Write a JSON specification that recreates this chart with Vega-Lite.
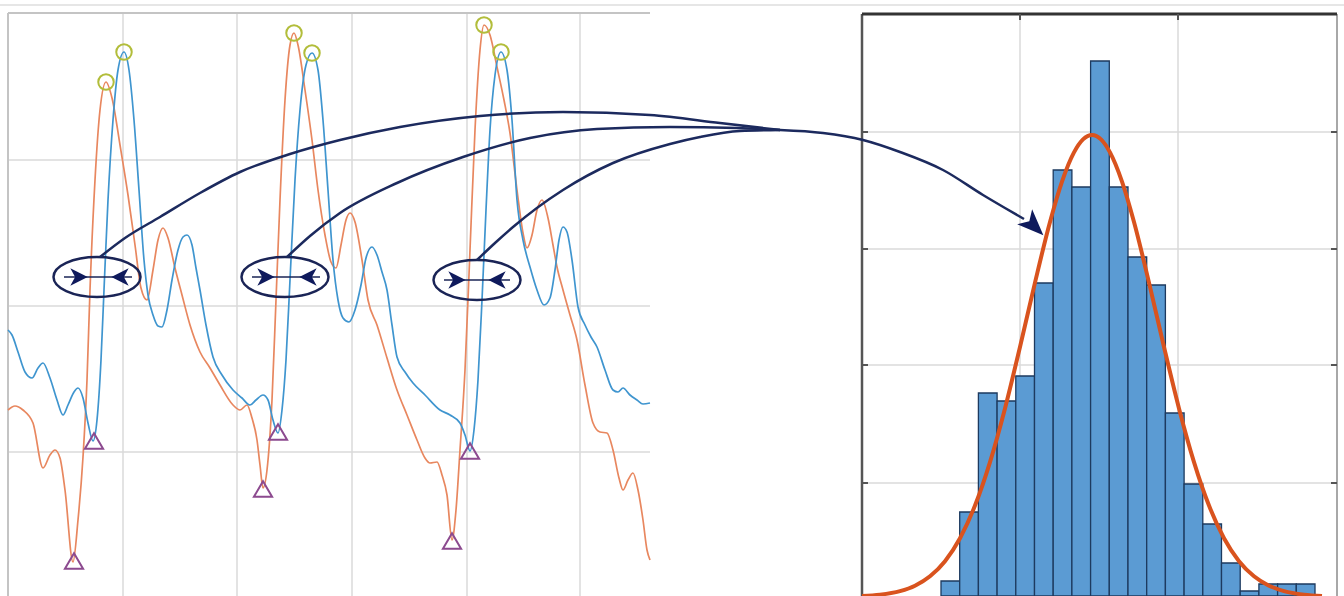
{
  "$schema": "https://vega.github.io/schema/vega-lite/v6.json",
  "width": 1344,
  "height": 596,
  "autosize": {"type": "none"},
  "padding": 0,
  "background": "white",
  "config": {"view": {"stroke": null}},
  "datasets": {
    "rules": [
      {"k": "outer", "x": 0, "x2": 1344, "y": 5, "y2": 5},
      {"k": "lgrid", "x": 123, "x2": 123, "y": 13, "y2": 596},
      {"k": "lgrid", "x": 237, "x2": 237, "y": 13, "y2": 596},
      {"k": "lgrid", "x": 352, "x2": 352, "y": 13, "y2": 596},
      {"k": "lgrid", "x": 467, "x2": 467, "y": 13, "y2": 596},
      {"k": "lgrid", "x": 580, "x2": 580, "y": 13, "y2": 596},
      {"k": "lgrid", "x": 8, "x2": 650, "y": 160, "y2": 160},
      {"k": "lgrid", "x": 8, "x2": 650, "y": 306, "y2": 306},
      {"k": "lgrid", "x": 8, "x2": 650, "y": 452, "y2": 452},
      {"k": "lborder", "x": 8, "x2": 650, "y": 13, "y2": 13},
      {"k": "lborder", "x": 8, "x2": 8, "y": 13, "y2": 596},
      {"k": "rgrid", "x": 1020, "x2": 1020, "y": 14, "y2": 596},
      {"k": "rgrid", "x": 1178, "x2": 1178, "y": 14, "y2": 596},
      {"k": "rgrid", "x": 862, "x2": 1337, "y": 132, "y2": 132},
      {"k": "rgrid", "x": 862, "x2": 1337, "y": 249, "y2": 249},
      {"k": "rgrid", "x": 862, "x2": 1337, "y": 365, "y2": 365},
      {"k": "rgrid", "x": 862, "x2": 1337, "y": 483, "y2": 483},
      {"k": "rtop", "x": 862, "x2": 1337, "y": 14, "y2": 14},
      {"k": "rleft", "x": 862, "x2": 862, "y": 14, "y2": 596},
      {"k": "rright", "x": 1337, "x2": 1337, "y": 14, "y2": 596},
      {"k": "rtick", "x": 862, "x2": 868, "y": 132, "y2": 132},
      {"k": "rtick", "x": 862, "x2": 868, "y": 249, "y2": 249},
      {"k": "rtick", "x": 862, "x2": 868, "y": 365, "y2": 365},
      {"k": "rtick", "x": 862, "x2": 868, "y": 483, "y2": 483},
      {"k": "rtick", "x": 1331, "x2": 1337, "y": 132, "y2": 132},
      {"k": "rtick", "x": 1331, "x2": 1337, "y": 249, "y2": 249},
      {"k": "rtick", "x": 1331, "x2": 1337, "y": 365, "y2": 365},
      {"k": "rtick", "x": 1331, "x2": 1337, "y": 483, "y2": 483},
      {"k": "rtick", "x": 1020, "x2": 1020, "y": 14, "y2": 20},
      {"k": "rtick", "x": 1178, "x2": 1178, "y": 14, "y2": 20}
    ],
    "hist": [
      {"x": 941.0, "x2": 959.7, "y": 581},
      {"x": 959.7, "x2": 978.4, "y": 512},
      {"x": 978.4, "x2": 997.1, "y": 393},
      {"x": 997.1, "x2": 1015.8, "y": 401},
      {"x": 1015.8, "x2": 1034.5, "y": 376},
      {"x": 1034.5, "x2": 1053.2, "y": 283},
      {"x": 1053.2, "x2": 1071.9, "y": 170},
      {"x": 1071.9, "x2": 1090.6, "y": 187},
      {"x": 1090.6, "x2": 1109.3, "y": 61},
      {"x": 1109.3, "x2": 1128.0, "y": 187},
      {"x": 1128.0, "x2": 1146.7, "y": 257},
      {"x": 1146.7, "x2": 1165.4, "y": 285},
      {"x": 1165.4, "x2": 1184.1, "y": 413},
      {"x": 1184.1, "x2": 1202.8, "y": 484},
      {"x": 1202.8, "x2": 1221.5, "y": 524},
      {"x": 1221.5, "x2": 1240.2, "y": 563},
      {"x": 1240.2, "x2": 1258.9, "y": 591},
      {"x": 1258.9, "x2": 1277.6, "y": 584},
      {"x": 1277.6, "x2": 1296.3, "y": 584},
      {"x": 1296.3, "x2": 1315.0, "y": 584}
    ],
    "fit": [
      {"x": 862, "y": 596.1}, {"x": 880, "y": 594.7}, {"x": 900, "y": 591.1}, {"x": 915, "y": 585.7},
      {"x": 930, "y": 576.3}, {"x": 945, "y": 561.2}, {"x": 960, "y": 538.2}, {"x": 975, "y": 505.6},
      {"x": 990, "y": 462.1}, {"x": 1005, "y": 408.4}, {"x": 1020, "y": 347.0}, {"x": 1035, "y": 282.6},
      {"x": 1050, "y": 222.0}, {"x": 1062, "y": 181.6}, {"x": 1074, "y": 152.4}, {"x": 1083, "y": 139.4},
      {"x": 1092, "y": 135.0}, {"x": 1101, "y": 139.4}, {"x": 1110, "y": 152.4}, {"x": 1122, "y": 181.6},
      {"x": 1134, "y": 222.0}, {"x": 1149, "y": 282.6}, {"x": 1164, "y": 347.0}, {"x": 1179, "y": 408.4},
      {"x": 1194, "y": 462.1}, {"x": 1209, "y": 505.6}, {"x": 1224, "y": 538.2}, {"x": 1239, "y": 561.2},
      {"x": 1254, "y": 576.3}, {"x": 1269, "y": 585.7}, {"x": 1284, "y": 591.1}, {"x": 1304, "y": 594.7},
      {"x": 1322, "y": 596.1}
    ],
    "signals": [
      {"s": "orange", "x": 8, "y": 410}, {"s": "orange", "x": 15, "y": 406}, {"s": "orange", "x": 23, "y": 410},
      {"s": "orange", "x": 33, "y": 423}, {"s": "orange", "x": 43, "y": 468}, {"s": "orange", "x": 50, "y": 455},
      {"s": "orange", "x": 55, "y": 450}, {"s": "orange", "x": 60, "y": 458}, {"s": "orange", "x": 65, "y": 490},
      {"s": "orange", "x": 73, "y": 562}, {"s": "orange", "x": 78, "y": 520}, {"s": "orange", "x": 83, "y": 457},
      {"s": "orange", "x": 87, "y": 380}, {"s": "orange", "x": 90, "y": 290}, {"s": "orange", "x": 95, "y": 180},
      {"s": "orange", "x": 100, "y": 110}, {"s": "orange", "x": 106, "y": 82}, {"s": "orange", "x": 112, "y": 98},
      {"s": "orange", "x": 120, "y": 145}, {"s": "orange", "x": 128, "y": 195}, {"s": "orange", "x": 135, "y": 245},
      {"s": "orange", "x": 141, "y": 288}, {"s": "orange", "x": 147, "y": 300}, {"s": "orange", "x": 153, "y": 270},
      {"s": "orange", "x": 158, "y": 240}, {"s": "orange", "x": 163, "y": 228}, {"s": "orange", "x": 168, "y": 238},
      {"s": "orange", "x": 175, "y": 268}, {"s": "orange", "x": 182, "y": 295}, {"s": "orange", "x": 190, "y": 325},
      {"s": "orange", "x": 200, "y": 352}, {"s": "orange", "x": 210, "y": 368}, {"s": "orange", "x": 220, "y": 385},
      {"s": "orange", "x": 233, "y": 405}, {"s": "orange", "x": 240, "y": 410}, {"s": "orange", "x": 247, "y": 405},
      {"s": "orange", "x": 252, "y": 418}, {"s": "orange", "x": 257, "y": 440}, {"s": "orange", "x": 260, "y": 465},
      {"s": "orange", "x": 263, "y": 488}, {"s": "orange", "x": 267, "y": 470}, {"s": "orange", "x": 272, "y": 400},
      {"s": "orange", "x": 276, "y": 300}, {"s": "orange", "x": 280, "y": 200}, {"s": "orange", "x": 285, "y": 100},
      {"s": "orange", "x": 290, "y": 45}, {"s": "orange", "x": 294, "y": 33}, {"s": "orange", "x": 298, "y": 45},
      {"s": "orange", "x": 305, "y": 90}, {"s": "orange", "x": 312, "y": 140}, {"s": "orange", "x": 318, "y": 190},
      {"s": "orange", "x": 325, "y": 235}, {"s": "orange", "x": 331, "y": 262}, {"s": "orange", "x": 336, "y": 268},
      {"s": "orange", "x": 341, "y": 245}, {"s": "orange", "x": 346, "y": 220}, {"s": "orange", "x": 350, "y": 213},
      {"s": "orange", "x": 355, "y": 222}, {"s": "orange", "x": 362, "y": 260}, {"s": "orange", "x": 368, "y": 300},
      {"s": "orange", "x": 377, "y": 325}, {"s": "orange", "x": 387, "y": 358}, {"s": "orange", "x": 397, "y": 390},
      {"s": "orange", "x": 407, "y": 415}, {"s": "orange", "x": 417, "y": 440}, {"s": "orange", "x": 425, "y": 458},
      {"s": "orange", "x": 430, "y": 463}, {"s": "orange", "x": 437, "y": 462}, {"s": "orange", "x": 442, "y": 475},
      {"s": "orange", "x": 447, "y": 495}, {"s": "orange", "x": 452, "y": 540}, {"s": "orange", "x": 456, "y": 510},
      {"s": "orange", "x": 460, "y": 450}, {"s": "orange", "x": 465, "y": 370}, {"s": "orange", "x": 470, "y": 250},
      {"s": "orange", "x": 475, "y": 130}, {"s": "orange", "x": 480, "y": 50}, {"s": "orange", "x": 484, "y": 25},
      {"s": "orange", "x": 490, "y": 35}, {"s": "orange", "x": 497, "y": 67}, {"s": "orange", "x": 504, "y": 100},
      {"s": "orange", "x": 510, "y": 133}, {"s": "orange", "x": 517, "y": 190}, {"s": "orange", "x": 523, "y": 233},
      {"s": "orange", "x": 527, "y": 248}, {"s": "orange", "x": 532, "y": 235}, {"s": "orange", "x": 537, "y": 210},
      {"s": "orange", "x": 542, "y": 200}, {"s": "orange", "x": 548, "y": 218}, {"s": "orange", "x": 553, "y": 245},
      {"s": "orange", "x": 557, "y": 267}, {"s": "orange", "x": 563, "y": 290}, {"s": "orange", "x": 570, "y": 315},
      {"s": "orange", "x": 577, "y": 340}, {"s": "orange", "x": 585, "y": 385}, {"s": "orange", "x": 593, "y": 423},
      {"s": "orange", "x": 600, "y": 432}, {"s": "orange", "x": 607, "y": 433}, {"s": "orange", "x": 613, "y": 450},
      {"s": "orange", "x": 619, "y": 478}, {"s": "orange", "x": 623, "y": 490}, {"s": "orange", "x": 628, "y": 480},
      {"s": "orange", "x": 633, "y": 473}, {"s": "orange", "x": 638, "y": 490}, {"s": "orange", "x": 643, "y": 520},
      {"s": "orange", "x": 647, "y": 550}, {"s": "orange", "x": 650, "y": 560},
      {"s": "blue", "x": 8, "y": 330}, {"s": "blue", "x": 12, "y": 335}, {"s": "blue", "x": 18, "y": 352},
      {"s": "blue", "x": 25, "y": 372}, {"s": "blue", "x": 32, "y": 378}, {"s": "blue", "x": 38, "y": 368},
      {"s": "blue", "x": 43, "y": 363}, {"s": "blue", "x": 50, "y": 378}, {"s": "blue", "x": 57, "y": 400},
      {"s": "blue", "x": 63, "y": 415}, {"s": "blue", "x": 68, "y": 405}, {"s": "blue", "x": 74, "y": 392},
      {"s": "blue", "x": 78, "y": 388}, {"s": "blue", "x": 83, "y": 398}, {"s": "blue", "x": 88, "y": 423},
      {"s": "blue", "x": 93, "y": 441}, {"s": "blue", "x": 97, "y": 420}, {"s": "blue", "x": 101, "y": 360},
      {"s": "blue", "x": 104, "y": 290}, {"s": "blue", "x": 108, "y": 200}, {"s": "blue", "x": 113, "y": 120},
      {"s": "blue", "x": 118, "y": 70}, {"s": "blue", "x": 124, "y": 52}, {"s": "blue", "x": 129, "y": 70},
      {"s": "blue", "x": 134, "y": 120}, {"s": "blue", "x": 139, "y": 190}, {"s": "blue", "x": 144, "y": 260},
      {"s": "blue", "x": 148, "y": 295}, {"s": "blue", "x": 153, "y": 315}, {"s": "blue", "x": 158, "y": 326},
      {"s": "blue", "x": 162, "y": 327}, {"s": "blue", "x": 167, "y": 310}, {"s": "blue", "x": 172, "y": 280},
      {"s": "blue", "x": 178, "y": 250}, {"s": "blue", "x": 183, "y": 237}, {"s": "blue", "x": 187, "y": 235},
      {"s": "blue", "x": 192, "y": 245}, {"s": "blue", "x": 196, "y": 268}, {"s": "blue", "x": 200, "y": 290},
      {"s": "blue", "x": 206, "y": 325}, {"s": "blue", "x": 213, "y": 357}, {"s": "blue", "x": 222, "y": 375},
      {"s": "blue", "x": 233, "y": 390}, {"s": "blue", "x": 242, "y": 398}, {"s": "blue", "x": 250, "y": 405},
      {"s": "blue", "x": 256, "y": 400}, {"s": "blue", "x": 263, "y": 395}, {"s": "blue", "x": 268, "y": 400},
      {"s": "blue", "x": 273, "y": 420}, {"s": "blue", "x": 278, "y": 433}, {"s": "blue", "x": 282, "y": 410},
      {"s": "blue", "x": 286, "y": 360}, {"s": "blue", "x": 290, "y": 280}, {"s": "blue", "x": 295, "y": 180},
      {"s": "blue", "x": 300, "y": 110}, {"s": "blue", "x": 306, "y": 65}, {"s": "blue", "x": 312, "y": 53},
      {"s": "blue", "x": 318, "y": 70}, {"s": "blue", "x": 323, "y": 120}, {"s": "blue", "x": 328, "y": 190},
      {"s": "blue", "x": 333, "y": 260}, {"s": "blue", "x": 338, "y": 300}, {"s": "blue", "x": 343, "y": 318},
      {"s": "blue", "x": 349, "y": 322}, {"s": "blue", "x": 355, "y": 310}, {"s": "blue", "x": 361, "y": 285},
      {"s": "blue", "x": 366, "y": 258}, {"s": "blue", "x": 372, "y": 247}, {"s": "blue", "x": 377, "y": 255},
      {"s": "blue", "x": 382, "y": 272}, {"s": "blue", "x": 387, "y": 290}, {"s": "blue", "x": 392, "y": 325},
      {"s": "blue", "x": 397, "y": 357}, {"s": "blue", "x": 405, "y": 372}, {"s": "blue", "x": 413, "y": 383},
      {"s": "blue", "x": 425, "y": 395}, {"s": "blue", "x": 440, "y": 410}, {"s": "blue", "x": 450, "y": 415},
      {"s": "blue", "x": 460, "y": 423}, {"s": "blue", "x": 465, "y": 435}, {"s": "blue", "x": 470, "y": 451},
      {"s": "blue", "x": 474, "y": 430}, {"s": "blue", "x": 478, "y": 380}, {"s": "blue", "x": 482, "y": 300},
      {"s": "blue", "x": 486, "y": 210}, {"s": "blue", "x": 490, "y": 130}, {"s": "blue", "x": 495, "y": 75},
      {"s": "blue", "x": 501, "y": 52}, {"s": "blue", "x": 507, "y": 70}, {"s": "blue", "x": 512, "y": 120},
      {"s": "blue", "x": 517, "y": 200}, {"s": "blue", "x": 523, "y": 240}, {"s": "blue", "x": 530, "y": 267},
      {"s": "blue", "x": 537, "y": 290}, {"s": "blue", "x": 544, "y": 305}, {"s": "blue", "x": 550, "y": 298},
      {"s": "blue", "x": 555, "y": 270}, {"s": "blue", "x": 559, "y": 240}, {"s": "blue", "x": 563, "y": 227},
      {"s": "blue", "x": 567, "y": 232}, {"s": "blue", "x": 572, "y": 260}, {"s": "blue", "x": 578, "y": 307},
      {"s": "blue", "x": 585, "y": 325}, {"s": "blue", "x": 591, "y": 337}, {"s": "blue", "x": 597, "y": 347},
      {"s": "blue", "x": 605, "y": 370}, {"s": "blue", "x": 613, "y": 390}, {"s": "blue", "x": 618, "y": 392},
      {"s": "blue", "x": 623, "y": 388}, {"s": "blue", "x": 630, "y": 395}, {"s": "blue", "x": 637, "y": 400},
      {"s": "blue", "x": 643, "y": 404}, {"s": "blue", "x": 650, "y": 403}
    ],
    "peaks": [
      {"x": 106, "y": 82}, {"x": 124, "y": 52}, {"x": 294, "y": 33},
      {"x": 312, "y": 53}, {"x": 484, "y": 25}, {"x": 501, "y": 52}
    ],
    "troughs": [
      {"x": 74, "y": 561}, {"x": 94, "y": 441}, {"x": 263, "y": 489},
      {"x": 278, "y": 432}, {"x": 452, "y": 541}, {"x": 470, "y": 451}
    ],
    "ellipses": [
      {"x": 97, "y": 277}, {"x": 285, "y": 277}, {"x": 477, "y": 280}
    ],
    "inner": [
      {"x": 64, "x2": 132, "y": 277, "y2": 277},
      {"x": 252, "x2": 320, "y": 277, "y2": 277},
      {"x": 444, "x2": 510, "y": 280, "y2": 280}
    ],
    "heads": [
      {"d": "r", "x": 79, "y": 277}, {"d": "l", "x": 120, "y": 277},
      {"d": "r", "x": 266, "y": 277}, {"d": "l", "x": 308, "y": 277},
      {"d": "r", "x": 457, "y": 280}, {"d": "l", "x": 497, "y": 280}
    ],
    "curves": [
      {"c": "1", "x": 100, "y": 257}, {"c": "1", "x": 125, "y": 238}, {"c": "1", "x": 160, "y": 217},
      {"c": "1", "x": 200, "y": 193}, {"c": "1", "x": 240, "y": 172}, {"c": "1", "x": 290, "y": 154},
      {"c": "1", "x": 340, "y": 140}, {"c": "1", "x": 400, "y": 127}, {"c": "1", "x": 480, "y": 116},
      {"c": "1", "x": 563, "y": 112}, {"c": "1", "x": 650, "y": 115}, {"c": "1", "x": 720, "y": 123},
      {"c": "1", "x": 780, "y": 130},
      {"c": "2", "x": 287, "y": 257}, {"c": "2", "x": 310, "y": 236}, {"c": "2", "x": 340, "y": 213},
      {"c": "2", "x": 397, "y": 183}, {"c": "2", "x": 463, "y": 157}, {"c": "2", "x": 530, "y": 138},
      {"c": "2", "x": 597, "y": 129}, {"c": "2", "x": 670, "y": 127}, {"c": "2", "x": 737, "y": 128},
      {"c": "2", "x": 780, "y": 130},
      {"c": "3", "x": 477, "y": 260}, {"c": "3", "x": 495, "y": 243}, {"c": "3", "x": 513, "y": 227},
      {"c": "3", "x": 563, "y": 190}, {"c": "3", "x": 613, "y": 163}, {"c": "3", "x": 670, "y": 144},
      {"c": "3", "x": 700, "y": 137}, {"c": "3", "x": 740, "y": 131}, {"c": "3", "x": 780, "y": 130},
      {"c": "4", "x": 780, "y": 130}, {"c": "4", "x": 823, "y": 133}, {"c": "4", "x": 863, "y": 140},
      {"c": "4", "x": 900, "y": 152}, {"c": "4", "x": 943, "y": 170}, {"c": "4", "x": 983, "y": 195},
      {"c": "4", "x": 1005, "y": 208}, {"c": "4", "x": 1024, "y": 219}
    ],
    "tip": [{"x": 1034, "y": 226}]
  },
  "encoding": {
    "x": {"field": "x", "type": "quantitative", "scale": {"domain": [0, 1344], "nice": false, "zero": false}, "axis": null},
    "y": {"field": "y", "type": "quantitative", "scale": {"domain": [0, 596], "nice": false, "zero": false, "reverse": true}, "axis": null}
  },
  "layer": [
    {
      "data": {"name": "rules"},
      "transform": [{"filter": "datum.k == 'outer'"}],
      "mark": {"type": "rule", "color": "#e6e6e6", "strokeWidth": 2},
      "encoding": {"x2": {"field": "x2"}, "y2": {"field": "y2"}}
    },
    {
      "data": {"name": "rules"},
      "transform": [{"filter": "datum.k == 'lgrid' || datum.k == 'rgrid'"}],
      "mark": {"type": "rule", "color": "#dadada", "strokeWidth": 1.5},
      "encoding": {"x2": {"field": "x2"}, "y2": {"field": "y2"}}
    },
    {
      "data": {"name": "rules"},
      "transform": [{"filter": "datum.k == 'lborder'"}],
      "mark": {"type": "rule", "color": "#c4c4c4", "strokeWidth": 2},
      "encoding": {"x2": {"field": "x2"}, "y2": {"field": "y2"}}
    },
    {
      "data": {"name": "hist"},
      "mark": {"type": "rect", "fill": "#5b9bd3", "stroke": "#1d3a5f", "strokeWidth": 1.3},
      "encoding": {"x2": {"field": "x2"}, "y2": {"datum": 596}}
    },
    {
      "data": {"name": "rules"},
      "transform": [{"filter": "datum.k == 'rright'"}],
      "mark": {"type": "rule", "color": "#a8a8a8", "strokeWidth": 2},
      "encoding": {"x2": {"field": "x2"}, "y2": {"field": "y2"}}
    },
    {
      "data": {"name": "rules"},
      "transform": [{"filter": "datum.k == 'rleft'"}],
      "mark": {"type": "rule", "color": "#555555", "strokeWidth": 2.5},
      "encoding": {"x2": {"field": "x2"}, "y2": {"field": "y2"}}
    },
    {
      "data": {"name": "rules"},
      "transform": [{"filter": "datum.k == 'rtop'"}],
      "mark": {"type": "rule", "color": "#333333", "strokeWidth": 3},
      "encoding": {"x2": {"field": "x2"}, "y2": {"field": "y2"}}
    },
    {
      "data": {"name": "rules"},
      "transform": [{"filter": "datum.k == 'rtick'"}],
      "mark": {"type": "rule", "color": "#555555", "strokeWidth": 2},
      "encoding": {"x2": {"field": "x2"}, "y2": {"field": "y2"}}
    },
    {
      "data": {"name": "fit"},
      "mark": {"type": "line", "color": "#d9531e", "strokeWidth": 4, "interpolate": "monotone"},
      "encoding": {}
    },
    {
      "data": {"name": "signals"},
      "mark": {"type": "line", "strokeWidth": 1.7, "interpolate": "monotone"},
      "encoding": {
        "color": {"field": "s", "type": "nominal", "scale": {"domain": ["orange", "blue"], "range": ["#e8875f", "#3f95cf"]}, "legend": null},
        "detail": {"field": "s"}
      }
    },
    {
      "data": {"name": "peaks"},
      "mark": {"type": "point", "shape": "circle", "filled": false, "opacity": 1, "size": 240, "strokeWidth": 2, "color": "#b2bd3a"},
      "encoding": {}
    },
    {
      "data": {"name": "troughs"},
      "mark": {"type": "point", "shape": "triangle-up", "filled": false, "opacity": 1, "size": 330, "strokeWidth": 2, "color": "#8c4a8f"},
      "encoding": {}
    },
    {
      "data": {"name": "inner"},
      "mark": {"type": "rule", "color": "#1a2456", "strokeWidth": 1.5},
      "encoding": {"x2": {"field": "x2"}, "y2": {"field": "y2"}}
    },
    {
      "data": {"name": "ellipses"},
      "mark": {"type": "point", "filled": false, "opacity": 1, "size": 7569, "strokeWidth": 2.5, "color": "#1a2456",
        "shape": "M-1,0C-1,-0.254,-0.552,-0.46,0,-0.46C0.552,-0.46,1,-0.254,1,0C1,0.254,0.552,0.46,0,0.46C-0.552,0.46,-1,0.254,-1,0Z"},
      "encoding": {}
    },
    {
      "data": {"name": "heads"},
      "transform": [{"filter": "datum.d == 'r'"}],
      "mark": {"type": "point", "filled": true, "size": 300, "opacity": 1, "color": "#0f1a5c",
        "shape": "M1,0L-1,-1L-0.45,0L-1,1Z"},
      "encoding": {}
    },
    {
      "data": {"name": "heads"},
      "transform": [{"filter": "datum.d == 'l'"}],
      "mark": {"type": "point", "filled": true, "size": 300, "opacity": 1, "color": "#0f1a5c",
        "shape": "M-1,0L1,-1L0.45,0L1,1Z"},
      "encoding": {}
    },
    {
      "data": {"name": "curves"},
      "mark": {"type": "line", "color": "#1c2a5e", "strokeWidth": 2.5, "interpolate": "monotone"},
      "encoding": {"detail": {"field": "c"}}
    },
    {
      "data": {"name": "tip"},
      "mark": {"type": "point", "filled": true, "size": 700, "opacity": 1, "color": "#0f1a5c", "angle": 45,
        "shape": "M1,0L-1,-0.8L-0.5,0L-1,0.8Z"},
      "encoding": {}
    }
  ]
}
